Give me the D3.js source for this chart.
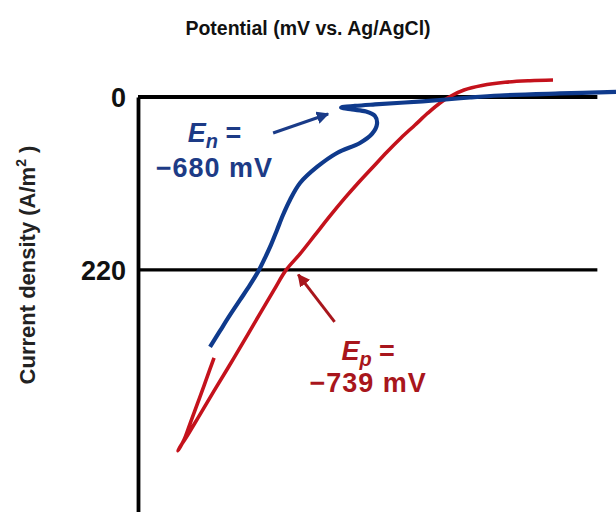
<!DOCTYPE html>
<html>
<head>
<meta charset="utf-8">
<script src="https://cdn.jsdelivr.net/npm/d3@7"></script>
<style>
  html, body { margin: 0; padding: 0; background: #fff; }
  svg { display: block; font-family: "Liberation Sans", Arial, sans-serif; }
</style>
</head>
<body>
<svg id="chart" width="616" height="512"></svg>
<script>
// Cyclic voltammograms: potential (mV vs. Ag/AgCl) and current density (A/m²)
const bluePotential = [-385.0, -445.1, -509.5, -541.7, -573.9, -611.5, -643.7, -665.1, -680,
  -668.3, -653.3, -643.7, -641.5, -646.9, -659.8, -684.4, -705.9, -724.1, -734.9, -742.4, -748.8,
  -755.3, -761.7, -768.1, -777.8, -788.5, -799.2, -810.0, -820.7];
const blueCurrent = [-6.4, -4.5, -1.9, 0.6, 3.8, 7.0, 9.5, 11.4, 13.4,
  15.9, 18.5, 24.2, 34.3, 47.0, 58.5, 71.2, 89.0, 109.4, 131.0, 150.1, 169.1,
  188.2, 204.7, 220, 239.1, 258.2, 277.3, 297.6, 317.9];

const redPotential = [-452.6, -477.3, -504.1, -528.8, -548.1, -562.1, -573.9, -586.8, -600.7,
  -615.8, -630.8, -645.8, -660.8, -675.9, -691.9, -708.0, -724.1, -739, -752.0, -773.5, -795.0,
  -816.4, -833.6, -846.5, -852.9, -855.1, -848.6, -842.2, -834.7, -827.2, -820.7, -816.4];
const redCurrent = [-21.6, -20.7, -18.7, -14.6, -8.9, -1.3, 7.6, 20.3, 35.6,
  52.1, 69.9, 89.0, 108.1, 128.4, 151.3, 175.5, 199.6, 220, 245.4, 288.7, 331.9,
  373.9, 408.2, 433.6, 445.1, 450.2, 436.2, 415.8, 391.7, 367.5, 345.9, 331.9];

const yTicks = [0, 220];
const refLines = [0, 220];
const nucleationPotential = -680;   // E_n
const peakPotential = -739;         // E_p

const svg = d3.select("#chart");

const x = d3.scaleLinear().domain([-898, -385]).range([138, 616]);
const y = d3.scaleLinear().domain([0, 528]).range([97, 512]);

// Horizontal reference lines
svg.selectAll("line.ref")
  .data(refLines)
  .join("line")
  .attr("class", "ref")
  .attr("x1", x(-898)).attr("x2", x(-405))
  .attr("y1", d => y(d)).attr("y2", d => y(d))
  .attr("stroke", "#000")
  .attr("stroke-width", d => d === 0 ? 3.8 : 3.2);

// Vertical axis with the two tick labels
const yAxis = svg.append("g")
  .attr("transform", `translate(${x(-898)},0)`)
  .call(d3.axisLeft(y).tickValues(yTicks).tickSize(0).tickPadding(12).tickFormat(d3.format("d")));
yAxis.select(".domain").attr("stroke", "#000").attr("stroke-width", 3.8);
yAxis.selectAll(".tick text")
  .attr("font-family", "Liberation Sans, Arial, sans-serif")
  .attr("font-size", 27)
  .attr("font-weight", "bold")
  .attr("fill", "#111")
  .attr("dy", "0.36em");

// Titles
svg.append("text")
  .attr("x", 308).attr("y", 35)
  .attr("text-anchor", "middle")
  .attr("font-size", 19.5).attr("font-weight", "bold").attr("fill", "#111")
  .text("Potential (mV vs. Ag/AgCl)");

const yTitle = svg.append("text")
  .attr("transform", "translate(35,265) rotate(-90)")
  .attr("text-anchor", "middle")
  .attr("font-size", 22).attr("font-weight", "bold").attr("fill", "#222");
yTitle.append("tspan").text("Current density (A/m");
yTitle.append("tspan").attr("font-size", 14).attr("dy", -9).text("2");
yTitle.append("tspan").attr("dy", 9).text(" )");

// Curves
const line = d3.line()
  .x(d => x(d[0]))
  .y(d => y(d[1]))
  .curve(d3.curveCatmullRom.alpha(0.5));

const blueData = d3.zip(bluePotential, blueCurrent);
const redData = d3.zip(redPotential, redCurrent);

svg.append("path")
  .datum(redData)
  .attr("d", line)
  .attr("fill", "none")
  .attr("stroke", "#c4121c")
  .attr("stroke-width", 3.6)
  .attr("stroke-linecap", "butt")
  .attr("stroke-linejoin", "round");

svg.append("path")
  .datum(blueData)
  .attr("d", line)
  .attr("fill", "none")
  .attr("stroke", "#0f3a8c")
  .attr("stroke-width", 4.2)
  .attr("stroke-linecap", "butt")
  .attr("stroke-linejoin", "round");

// Annotation arrows
const defs = svg.append("defs");
function marker(id, color) {
  defs.append("marker")
    .attr("id", id)
    .attr("viewBox", "0 0 10 10")
    .attr("refX", 9).attr("refY", 5)
    .attr("markerWidth", 4.2).attr("markerHeight", 4.2)
    .attr("markerUnits", "strokeWidth")
    .attr("orient", "auto")
    .append("path")
    .attr("d", "M0,0 L10,5 L0,10 Z")
    .attr("fill", color);
}
marker("headBlue", "#1a3b88");
marker("headRed", "#a8161c");

const arrows = [
  { from: [-753, 45.8], to: [-694, 21.6], color: "#1a3b88", head: "headBlue" },
  { from: [-687, 286], to: [-726, 226], color: "#a8161c", head: "headRed" }
];
svg.selectAll("line.arrow")
  .data(arrows)
  .join("line")
  .attr("class", "arrow")
  .attr("x1", d => x(d.from[0])).attr("y1", d => y(d.from[1]))
  .attr("x2", d => x(d.to[0])).attr("y2", d => y(d.to[1]))
  .attr("stroke", d => d.color)
  .attr("stroke-width", 3)
  .attr("marker-end", d => `url(#${d.head})`);

// Annotation labels
function label(px, py1, py2, sub, value, color) {
  const g = svg.append("g").attr("fill", color).attr("font-weight", "bold");
  const t1 = g.append("text")
    .attr("x", x(px)).attr("y", y(py1))
    .attr("text-anchor", "middle")
    .attr("font-size", 27);
  t1.append("tspan").attr("font-style", "italic").text("E");
  t1.append("tspan").attr("font-style", "italic").attr("font-size", 20).attr("dy", 6).text(sub);
  t1.append("tspan").attr("dy", -6).text(" =");
  g.append("text")
    .attr("x", x(px)).attr("y", y(py2))
    .attr("text-anchor", "middle")
    .attr("font-size", 27)
    .attr("letter-spacing", 1)
    .text("\u2212" + Math.abs(value) + " mV");
}
label(-816, 57, 102, "n", nucleationPotential, "#1d3b86");
label(-651, 334, 375, "p", peakPotential, "#a8161c");
</script>
</body>
</html>
